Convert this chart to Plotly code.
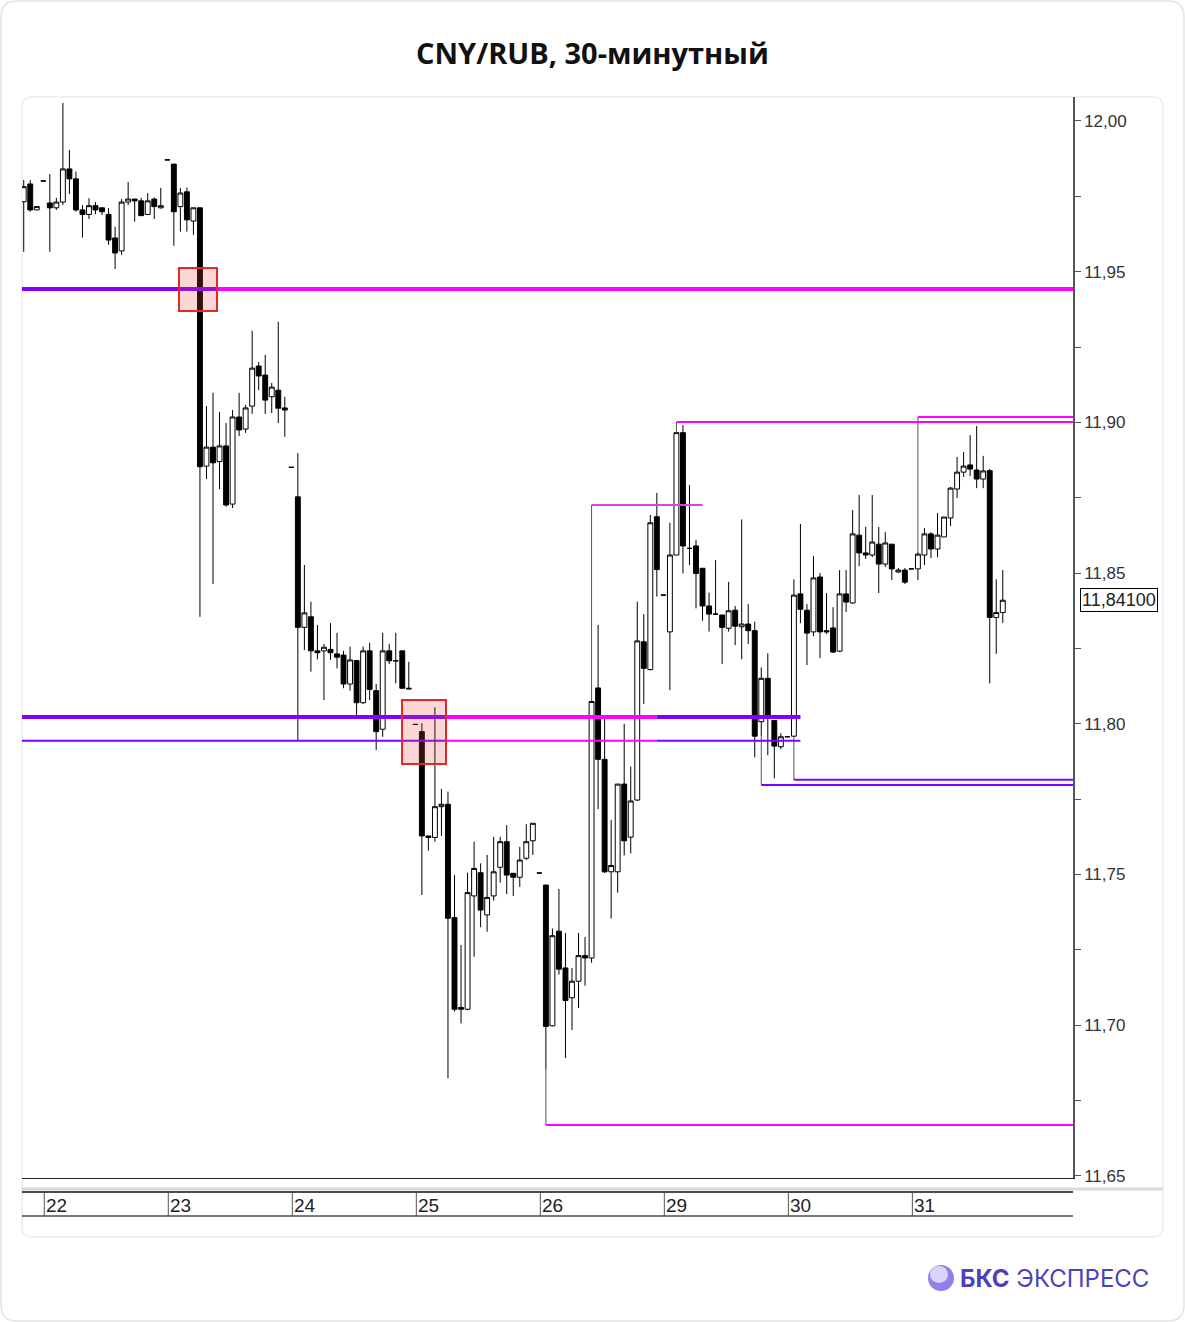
import plotly.graph_objects as go

# ---------------- data ----------------
day_labels = ["22", "23", "24", "25", "26", "29", "30", "31"]
candles_per_day = 19
lead_candles = 3  # last candles of the 21st visible at the left edge

open_ = [
    11.9732, 11.9791, 11.9705,
    11.9801, 11.9728, 11.9712, 11.9731, 11.9841, 11.9808, 11.9705, 11.9690, 11.9719, 11.9712, 11.9690, 11.9612, 11.9569, 11.9731, 11.9741, 11.9735, 11.9690, 11.9741, 11.9712,
    11.9871, 11.9857, 11.9716, 11.9765, 11.9668, 11.9712, 11.8855, 11.8918, 11.8870, 11.8922, 11.8729, 11.9018, 11.8978, 11.9054, 11.9187, 11.9157, 11.9085, 11.9107, 11.9048,
    11.8851, 11.8753, 11.8320, 11.8355, 11.8242, 11.8242, 11.8247, 11.8232, 11.8228, 11.8132, 11.8210, 11.8070, 11.8242, 11.8110, 11.7982, 11.8242, 11.8209, 11.8242, 11.8118,
    11.7998, 11.7974, 11.7628, 11.7623, 11.7725, 11.7733, 11.7357, 11.7059, 11.7053, 11.7429, 11.7506, 11.7366, 11.7429, 11.7524, 11.7609, 11.7504, 11.7491, 11.7554, 11.7612,
    11.7505, 11.7465, 11.6998, 11.7312, 11.7190, 11.7091, 11.7146, 11.7231, 11.7223, 11.8119, 11.7882, 11.7509, 11.7509, 11.7800, 11.7624, 11.7747, 11.8272, 11.8180, 11.8687,
    11.8427, 11.8305, 11.8560, 11.8966, 11.8582, 11.8590, 11.8516, 11.8391, 11.8364, 11.8361, 11.8317, 11.8377, 11.8322, 11.8331, 11.8309, 11.8007, 11.8151, 11.8011, 11.7924,
    11.7957, 11.7959, 11.8431, 11.8377, 11.8305, 11.8487, 11.8309, 11.8318, 11.8241, 11.8431, 11.8401, 11.8626, 11.8567, 11.8560, 11.8596, 11.8530, 11.8596, 11.8504, 11.8510,
    11.8514, 11.8514, 11.8560, 11.8630, 11.8580, 11.8620, 11.8683, 11.8779, 11.8835, 11.8859, 11.8842, 11.8812, 11.8840, 11.8353, 11.8369,
]
high_ = [
    11.9804, 11.9804, 11.9716,
    11.9801, 11.9824, 11.9745, 12.0060, 11.9904, 11.9832, 11.9721, 11.9744, 11.9731, 11.9712, 11.9711, 11.9649, 11.9741, 11.9798, 11.9741, 11.9745, 11.9761, 11.9746, 11.9778,
    11.9871, 11.9857, 11.9778, 11.9779, 11.9712, 11.9712, 11.9054, 11.9098, 11.9035, 11.8998, 11.9041, 11.9098, 11.9058, 11.9304, 11.9200, 11.9224, 11.9131, 11.9334, 11.9085,
    11.8851, 11.8898, 11.8527, 11.8405, 11.8328, 11.8265, 11.8334, 11.8302, 11.8242, 11.8256, 11.8212, 11.8256, 11.8269, 11.8132, 11.8302, 11.8265, 11.8302, 11.8242, 11.8206,
    11.7998, 11.8002, 11.7628, 11.8055, 11.7784, 11.7775, 11.7498, 11.7266, 11.7506, 11.7609, 11.7537, 11.7565, 11.7625, 11.7625, 11.7664, 11.7504, 11.7592, 11.7667, 11.7670,
    11.7505, 11.7465, 11.7321, 11.7452, 11.7306, 11.7190, 11.7306, 11.7293, 11.8074, 11.8328, 11.8029, 11.7681, 11.7800, 11.8000, 11.7858, 11.8405, 11.8364, 11.8693, 11.8766,
    11.8427, 11.8667, 11.8966, 11.8991, 11.8792, 11.8610, 11.8517, 11.8435, 11.8543, 11.8361, 11.8471, 11.8391, 11.8678, 11.8397, 11.8339, 11.8187, 11.8234, 11.8011, 11.7969,
    11.7957, 11.8479, 11.8663, 11.8397, 11.8557, 11.8500, 11.8434, 11.8387, 11.8510, 11.8510, 11.8709, 11.8759, 11.8653, 11.8759, 11.8653, 11.8636, 11.8596, 11.8517, 11.8517,
    11.8514, 11.8570, 11.8650, 11.8636, 11.8699, 11.8686, 11.8786, 11.8885, 11.8902, 11.8958, 11.8988, 11.8889, 11.8845, 11.8479, 11.8510,
]
low_ = [
    11.9566, 11.9699, 11.9705,
    11.9801, 11.9566, 11.9705, 11.9721, 11.9758, 11.9699, 11.9613, 11.9675, 11.9691, 11.9688, 11.9589, 11.9509, 11.9555, 11.9721, 11.9666, 11.9685, 11.9688, 11.9675, 11.9709,
    11.9871, 11.9586, 11.9633, 11.9633, 11.9622, 11.8355, 11.8812, 11.8464, 11.8779, 11.8720, 11.8716, 11.8955, 11.8965, 11.9028, 11.9107, 11.9028, 11.9031, 11.8998, 11.8952,
    11.8851, 11.7946, 11.8245, 11.8173, 11.8214, 11.8079, 11.8212, 11.8184, 11.8118, 11.8110, 11.8029, 11.8066, 11.8079, 11.7913, 11.7957, 11.8198, 11.8134, 11.8116, 11.8114,
    11.7998, 11.7432, 11.7579, 11.7609, 11.7628, 11.6824, 11.7045, 11.7006, 11.7050, 11.7227, 11.7325, 11.7310, 11.7413, 11.7473, 11.7435, 11.7429, 11.7459, 11.7548, 11.7565,
    11.7505, 11.6855, 11.6996, 11.7168, 11.6891, 11.6984, 11.7057, 11.7131, 11.7207, 11.7717, 11.7505, 11.7354, 11.7440, 11.7563, 11.7570, 11.7744, 11.8066, 11.8177, 11.8422,
    11.8427, 11.8112, 11.8560, 11.8499, 11.8527, 11.8383, 11.8342, 11.8306, 11.8361, 11.8198, 11.8306, 11.8261, 11.8214, 11.8265, 11.7889, 11.7960, 11.7896, 11.7819, 11.7916,
    11.7957, 11.7955, 11.8334, 11.8195, 11.8291, 11.8218, 11.8298, 11.8235, 11.8238, 11.8371, 11.8398, 11.8523, 11.8547, 11.8553, 11.8434, 11.8520, 11.8477, 11.8500, 11.8464,
    11.8514, 11.8477, 11.8527, 11.8550, 11.8553, 11.8620, 11.8656, 11.8749, 11.8819, 11.8822, 11.8782, 11.8782, 11.8134, 11.8232, 11.8335,
]
close_ = [
    11.9782, 11.9705, 11.9716,
    11.9801, 11.9712, 11.9731, 11.9841, 11.9808, 11.9705, 11.9690, 11.9719, 11.9705, 11.9699, 11.9605, 11.9562, 11.9731, 11.9741, 11.9735, 11.9686, 11.9735, 11.9716, 11.9719,
    11.9871, 11.9699, 11.9761, 11.9672, 11.9712, 11.8853, 11.8918, 11.8866, 11.8922, 11.8726, 11.9018, 11.8975, 11.9048, 11.9180, 11.9154, 11.9074, 11.9117, 11.9047, 11.9041,
    11.8851, 11.8320, 11.8368, 11.8242, 11.8236, 11.8254, 11.8236, 11.8221, 11.8132, 11.8212, 11.8070, 11.8242, 11.8114, 11.7974, 11.8242, 11.8209, 11.8209, 11.8118, 11.8116,
    11.7998, 11.7628, 11.7623, 11.7725, 11.7733, 11.7355, 11.7053, 11.7053, 11.7440, 11.7520, 11.7382, 11.7424, 11.7509, 11.7609, 11.7498, 11.7491, 11.7548, 11.7609, 11.7670,
    11.7505, 11.6996, 11.7297, 11.7186, 11.7082, 11.7146, 11.7231, 11.7223, 11.8074, 11.7882, 11.7509, 11.7530, 11.7800, 11.7612, 11.7744, 11.8275, 11.8184, 11.8667, 11.8512,
    11.8427, 11.8560, 11.8966, 11.8590, 11.8582, 11.8499, 11.8391, 11.8364, 11.8364, 11.8320, 11.8375, 11.8324, 11.8331, 11.8309, 11.7959, 11.8151, 11.8026, 11.7926, 11.7957,
    11.7957, 11.8427, 11.8380, 11.8301, 11.8484, 11.8305, 11.8305, 11.8238, 11.8431, 11.8404, 11.8630, 11.8567, 11.8560, 11.8603, 11.8530, 11.8600, 11.8514, 11.8510, 11.8470,
    11.8514, 11.8563, 11.8630, 11.8580, 11.8626, 11.8686, 11.8782, 11.8835, 11.8855, 11.8845, 11.8812, 11.8839, 11.8353, 11.8369, 11.8410,
]
last_price = 11.841

# horizontal levels: price, first candle index, last candle index (None = to the axis)
level_price = [11.9443, 11.9443, 11.8023, 11.8023, 11.8023, 11.7944, 11.7944, 11.7944,
               11.9001, 11.9018, 11.8726, 11.7814, 11.7797, 11.6669]
level_start = [None, 26.46, None, 61.7, 93.95, None, 61.7, 93.95, 97, 134, 84, 115, 110, 77]
level_end = [26.46, None, 61.7, 93.95, 116, 61.7, 93.95, 116, None, None, 101, None, None, None]
level_kind = ["violet", "magenta", "violet", "magenta", "violet", "violet", "magenta", "violet",
              "magenta", "magenta", "magenta_light", "violet", "violet", "magenta"]
level_thick = [True, True, True, True, True, False, False, False,
               False, False, False, False, False, False]
# vertical connectors from a candle to its level
conn_index = [77, 84, 97, 134, 110, 115]
conn_from = [11.6855, 11.8074, 11.8966, 11.8570, 11.7960, 11.7955]
conn_to = [11.6669, 11.8726, 11.9001, 11.9018, 11.7797, 11.7814]

# highlighted zones (candle index range, price range)
box_x0 = [20.79, 54.96]
box_x1 = [26.61, 61.70]
box_y0 = [11.9370, 11.7867]
box_y1 = [11.9512, 11.8079]

y_ticks = [11.65, 11.70, 11.75, 11.80, 11.85, 11.90, 11.95, 12.00]

# ---------------- geometry helpers ----------------
W, H = 1185, 1322
PL, PR, PT, PB = 22, 1073, 97, 1178
XMIN, XMAX = -3.263, 157.76
YMIN, YMAX = 11.64931, 12.00796


def px(xp):
    return (xp - PL) / (PR - PL)


def py(yp):
    return (PB - yp) / (PB - PT)


def rounded_path(x0, y0, x1, y1, r):
    def P(a, b):
        return f"{px(a):.5f},{py(b):.5f}"
    s = f"M {P(x0 + r, y0)} L {P(x1 - r, y0)} Q {P(x1, y0)} {P(x1, y0 + r)} "
    s += f"L {P(x1, y1 - r)} Q {P(x1, y1)} {P(x1 - r, y1)} "
    s += f"L {P(x0 + r, y1)} Q {P(x0, y1)} {P(x0, y1 - r)} "
    s += f"L {P(x0, y0 + r)} Q {P(x0, y0)} {P(x0 + r, y0)} Z"
    return s


colors = {"violet": "#7f00ff", "magenta": "#ff00ff", "magenta_light": "#dd44dd"}

x_idx = list(range(-lead_candles, len(open_) - lead_candles))

fig = go.Figure()
fig.add_trace(go.Candlestick(
    x=x_idx, open=open_, high=high_, low=low_, close=close_,
    increasing=dict(line=dict(color="#000000", width=1), fillcolor="#ffffff"),
    decreasing=dict(line=dict(color="#000000", width=1), fillcolor="#000000"),
    whiskerwidth=0, hoverinfo="skip", showlegend=False,
))

for xi, a, b in zip(conn_index, conn_from, conn_to):
    fig.add_trace(go.Scatter(x=[xi, xi], y=[a, b], mode="lines",
                             line=dict(color="#555555", width=1),
                             hoverinfo="skip", showlegend=False))

for p, s, e, k, t in zip(level_price, level_start, level_end, level_kind, level_thick):
    x0 = XMIN if s is None else s
    x1 = XMAX if e is None else e
    fig.add_trace(go.Scatter(x=[x0, x1], y=[p, p], mode="lines",
                             line=dict(color=colors[k], width=4 if t else 2),
                             hoverinfo="skip", showlegend=False))

shapes = []
# outer frame and card
shapes.append(dict(type="path", xref="paper", yref="paper", path=rounded_path(1, 1, 1184, 1321, 16),
                   line=dict(color="#e4e4e4", width=1.5), layer="below"))
shapes.append(dict(type="path", xref="paper", yref="paper", path=rounded_path(22, 97, 1163, 1237, 10),
                   line=dict(color="#ececec", width=1.5), layer="below"))
# zones
for a, b, c, d in zip(box_x0, box_x1, box_y0, box_y1):
    shapes.append(dict(type="rect", xref="x", yref="y", x0=a, x1=b, y0=c, y1=d,
                       fillcolor="rgba(230,70,70,0.22)", line=dict(color="#e02a2a", width=2),
                       layer="above"))
# separators below the plot
shapes.append(dict(type="line", xref="paper", yref="paper", x0=px(22), x1=px(1163), y0=py(1189), y1=py(1189),
                   line=dict(color="#dadada", width=3)))
shapes.append(dict(type="line", xref="paper", yref="paper", x0=0, x1=1, y0=py(1192), y1=py(1192),
                   line=dict(color="#111111", width=1.5)))
shapes.append(dict(type="line", xref="paper", yref="paper", x0=0, x1=1, y0=py(1216), y1=py(1216),
                   line=dict(color="#7a7a7a", width=2)))
annotations = []
for k, lab in enumerate(day_labels):
    xs = k * candles_per_day + 0.15
    shapes.append(dict(type="line", xref="x", yref="paper", x0=xs, x1=xs, y0=py(1192), y1=py(1216),
                       line=dict(color="#555555", width=1)))
    annotations.append(dict(x=xs, y=py(1205), xref="x", yref="paper", text=lab, showarrow=False,
                            xanchor="left", yanchor="middle", xshift=0,
                            font=dict(family="Liberation Sans Narrow, Arial Narrow, Liberation Sans", size=19,
                                      color="#222222")))

# logo sphere
shapes.append(dict(type="circle", xref="paper", yref="paper", x0=px(928), x1=px(954), y0=py(1291), y1=py(1265),
                   fillcolor="#8f80ec", line=dict(width=0)))
shapes.append(dict(type="circle", xref="paper", yref="paper", x0=px(930), x1=px(948), y0=py(1283), y1=py(1266),
                   fillcolor="#d9d4fb", line=dict(width=0)))

annotations.append(dict(x=px(592), y=py(52), xref="paper", yref="paper",
                        text="<b>CNY/RUB, 30-минутный</b>", showarrow=False,
                        xanchor="center", yanchor="middle",
                        font=dict(family="Open Sans", size=29, color="#111111")))
annotations.append(dict(x=px(958), y=py(1278), xref="paper", yref="paper",
                        text="<b>БКС</b> ЭКСПРЕСС", showarrow=False,
                        xanchor="left", yanchor="middle",
                        font=dict(family="Inter, Roboto", size=24, color="#4e3fbd")))
annotations.append(dict(x=px(1080), y=last_price, xref="paper", yref="y",
                        text="11,84100", showarrow=False, xanchor="left", yanchor="middle",
                        bordercolor="#000000", borderwidth=1, borderpad=1, bgcolor="#ffffff",
                        font=dict(family="Liberation Sans, Arial", size=18, color="#222222")))

fig.update_layout(
    width=W, height=H,
    margin=dict(l=PL, r=W - PR, t=PT, b=H - PB),
    paper_bgcolor="#ffffff", plot_bgcolor="#ffffff",
    separators=", ",
    boxgap=0.25, boxgroupgap=0,
    shapes=shapes, annotations=annotations,
    showlegend=False,
    xaxis=dict(range=[XMIN, XMAX], showgrid=False, zeroline=False, showticklabels=False,
               ticks="", showline=True, linecolor="#222222", linewidth=1,
               rangeslider=dict(visible=False), fixedrange=True),
    yaxis=dict(range=[YMIN, YMAX], side="right", showgrid=False, zeroline=False,
               tickmode="array", tickvals=y_ticks, tickformat=".2f",
               ticks="outside", ticklen=6, tickcolor="#555555", tickwidth=1,
               showline=True, linecolor="#555555", linewidth=1.5,
               tickfont=dict(family="Liberation Sans, Arial", size=17, color="#333333"),
               minor=dict(tickmode="array", tickvals=[v + 0.025 for v in y_ticks[:-1]],
                          ticks="outside", ticklen=6, tickcolor="#555555"),
               fixedrange=True),
)

fig.write_html("out.html", config={"displayModeBar": False},
               post_script="document.body.style.margin='0px';document.body.style.padding='0px';")
